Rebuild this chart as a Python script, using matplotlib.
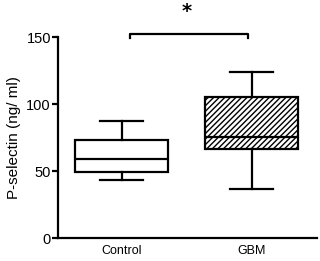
import matplotlib
matplotlib.use('Agg')
import matplotlib.pyplot as plt
from matplotlib import font_manager

OUTPUT = 'out.png'

groups = ['Control', 'GBM']
whisker_low = [43.3, 36.9]
q1 = [49.5, 66.6]
median = [58.7, 75.6]
q3 = [73.1, 105.4]
whisker_high = [87.3, 124.1]
hatches = ['', '//////']
y_ticks = [0, 50, 100, 150]

names = {f.name for f in font_manager.fontManager.ttflist}
family = ['Liberation Sans Narrow'] if 'Liberation Sans Narrow' in names else ['Liberation Sans']
plt.rcParams['font.family'] = family + ['DejaVu Sans']
plt.rcParams['hatch.linewidth'] = 1.0


def main():
    fig = plt.figure(figsize=(3.2, 2.61), dpi=100)
    ax = fig.add_axes([0.181, 0.088, 0.809, 0.77])

    stats = []
    for i, name in enumerate(groups):
        stats.append({
            'label': name, 'whislo': whisker_low[i], 'q1': q1[i],
            'med': median[i], 'q3': q3[i], 'whishi': whisker_high[i],
            'fliers': [],
        })

    lw = 1.6
    bp = ax.bxp(stats, positions=[1, 2], widths=0.715, patch_artist=True,
                showfliers=False,
                boxprops=dict(linewidth=lw, edgecolor='black', facecolor='white'),
                medianprops=dict(linewidth=lw, color='black'),
                whiskerprops=dict(linewidth=lw, color='black'),
                capprops=dict(linewidth=lw, color='black'),
                capwidths=0.33)
    for box, h in zip(bp['boxes'], hatches):
        box.set_hatch(h)

    ax.set_xlim(0.508, 2.5)
    ax.set_ylim(0, 150)
    ax.set_yticks(y_ticks)
    ax.set_yticklabels([str(t) for t in y_ticks], fontsize=10.5)
    ax.set_xticks([1, 2])
    ax.set_xticklabels(groups, fontsize=9)
    ax.tick_params(axis='x', length=0, pad=5)
    ax.tick_params(axis='y', length=4, width=lw, pad=1)
    for side in ['top', 'right']:
        ax.spines[side].set_visible(False)
    for side in ['left', 'bottom']:
        ax.spines[side].set_linewidth(lw)
    ax.set_ylabel('P-selectin (ng/ ml)', fontsize=11, labelpad=4)

    # significance bracket
    ax.plot([1.06, 1.06, 1.97, 1.97], [149.5, 152.2, 152.2, 149.5],
            color='black', lw=lw, clip_on=False)
    ax.text(1.5, 169, '*', ha='center', va='center', fontsize=14,
            fontweight='bold', family='DejaVu Sans')

    fig.savefig(OUTPUT, dpi=100)


if __name__ == '__main__':
    main()
